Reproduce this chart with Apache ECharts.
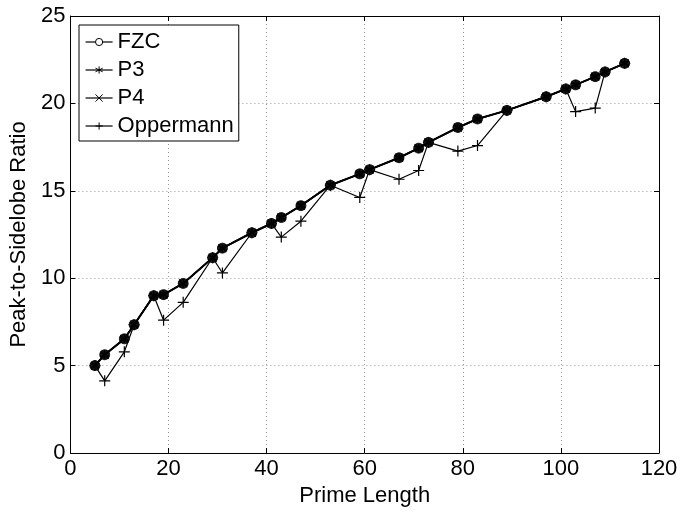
<!DOCTYPE html>
<html>
<head>
<meta charset="utf-8">
<script src="https://cdn.jsdelivr.net/npm/echarts@6/dist/echarts.min.js"></script>
<style>
html,body{margin:0;padding:0;background:#fff;}
#chart{width:682px;height:512px;}
</style>
</head>
<body>
<div id="chart"></div>
<script>
const primeLengths = [5,7,11,13,17,19,23,29,31,37,41,43,47,53,59,61,67,71,73,79,83,89,97,101,103,107,109,113];
const fzc = [5.00,5.62,6.53,7.34,9.00,9.06,9.70,11.17,11.72,12.60,13.13,13.47,14.15,15.32,15.97,16.21,16.89,17.44,17.77,18.62,19.11,19.60,20.38,20.83,21.06,21.53,21.80,22.29];
const p3  = [5.00,5.62,6.53,7.34,9.00,9.06,9.70,11.17,11.72,12.60,13.13,13.47,14.15,15.32,15.97,16.21,16.89,17.44,17.77,18.62,19.11,19.60,20.38,20.83,21.06,21.53,21.80,22.29];
const p4  = [5.00,5.62,6.53,7.34,9.00,9.06,9.70,11.17,11.72,12.60,13.13,13.47,14.15,15.32,15.97,16.21,16.89,17.44,17.77,18.62,19.11,19.60,20.38,20.83,21.06,21.53,21.80,22.29];
const oppermann = [5.00,4.13,5.79,7.34,9.00,7.60,8.62,11.17,10.30,12.60,13.13,12.35,13.26,15.32,14.62,16.21,15.66,16.16,17.77,17.27,17.59,19.60,20.38,20.83,19.53,19.73,21.80,22.29];
const seriesNames = ['FZC','P3','P4','Oppermann'];
const xTicks = [0,20,40,60,80,100,120];
const yTicks = [0,5,10,15,20,25];

const pairs = arr => primeLengths.map((x,i)=>[x,arr[i]]);
const FONT = 'Liberation Sans, Arial, Helvetica, sans-serif';
const asteriskPath = 'path://M5,0L5,10M0.67,2.5L9.33,7.5M0.67,7.5L9.33,2.5';
const xPath = 'path://M0,0L10,10M0,10L10,0';
const plusPath = 'path://M5,0L5,10M0,5L10,5';

const chart = echarts.init(document.getElementById('chart'), null, {renderer:'canvas'});
const baseAxisText = {color:'#000', fontSize:22, fontFamily:FONT};
const option = {
  backgroundColor:'#fff',
  animation:false,
  grid:{left:67, right:23, top:16, bottom:55, containLabel:false},
  legend:{
    orient:'vertical', left:79, top:25,
    backgroundColor:'#fff', borderColor:'#000', borderWidth:1,
    padding:[6,5,4,6], itemGap:6, itemWidth:27, itemHeight:9,
    textStyle:{color:'#000', fontSize:22, fontFamily:FONT, lineHeight:22},
    lineStyle:{width:1.2},
    itemStyle:{borderWidth:1},
    data:[
      {name:'FZC', itemStyle:{color:'#fff', borderColor:'#000', borderWidth:1}},
      {name:'P3'},{name:'P4'},{name:'Oppermann'}
    ]
  },
  xAxis:[{
    type:'value', min:0, max:120, interval:20,
    name:'Prime Length', nameLocation:'middle', nameGap:32,
    nameTextStyle:baseAxisText,
    axisLine:{onZero:false, lineStyle:{color:'#000', width:1}},
    axisTick:{inside:true, length:5, lineStyle:{color:'#000'}},
    axisLabel:{...baseAxisText, margin:5, formatter:v=>xTicks.includes(v)?String(v):''},
    splitLine:{show:true, lineStyle:{color:'#999', type:[1,3], width:1}}
  },{
    type:'value', min:0, max:120, interval:20, position:'top',
    axisLine:{onZero:false, lineStyle:{color:'#000', width:1}},
    axisTick:{inside:true, length:5, lineStyle:{color:'#000'}},
    axisLabel:{show:false}, splitLine:{show:false}
  }],
  yAxis:[{
    type:'value', min:0, max:25, interval:5,
    name:'Peak-to-Sidelobe Ratio', nameLocation:'middle', nameGap:37,
    nameTextStyle:baseAxisText,
    axisLine:{onZero:false, show:true, lineStyle:{color:'#000', width:1}},
    axisTick:{show:true, inside:true, length:5, lineStyle:{color:'#000'}},
    axisLabel:{...baseAxisText, margin:5, formatter:v=>yTicks.includes(v)?String(v):''},
    splitLine:{show:true, lineStyle:{color:'#999', type:[1,3], width:1}}
  },{
    type:'value', min:0, max:25, interval:5, position:'right',
    axisLine:{onZero:false, show:true, lineStyle:{color:'#000', width:1}},
    axisTick:{show:true, inside:true, length:5, lineStyle:{color:'#000'}},
    axisLabel:{show:false}, splitLine:{show:false}
  }],
  series:[
    {name:seriesNames[0], type:'line', data:pairs(fzc), symbol:'circle', symbolSize:10,
     lineStyle:{color:'#000', width:2}, itemStyle:{color:'#151515', borderColor:'#000', borderWidth:0.8}, z:3},
    {name:seriesNames[1], type:'line', data:pairs(p3), symbol:asteriskPath, symbolSize:9,
     lineStyle:{color:'#000', width:1.5}, itemStyle:{color:'#000', borderColor:'#000', borderWidth:1.2}, z:4},
    {name:seriesNames[2], type:'line', data:pairs(p4), symbol:xPath, symbolSize:8,
     lineStyle:{color:'#000', width:1.5}, itemStyle:{color:'#000', borderColor:'#000', borderWidth:1.2}, z:4},
    {name:seriesNames[3], type:'line', data:pairs(oppermann), symbol:plusPath, symbolSize:11,
     lineStyle:{color:'#000', width:1.2}, itemStyle:{color:'#000', borderColor:'#000', borderWidth:1.2}, z:2}
  ]
};
chart.setOption(option);
</script>
</body>
</html>
